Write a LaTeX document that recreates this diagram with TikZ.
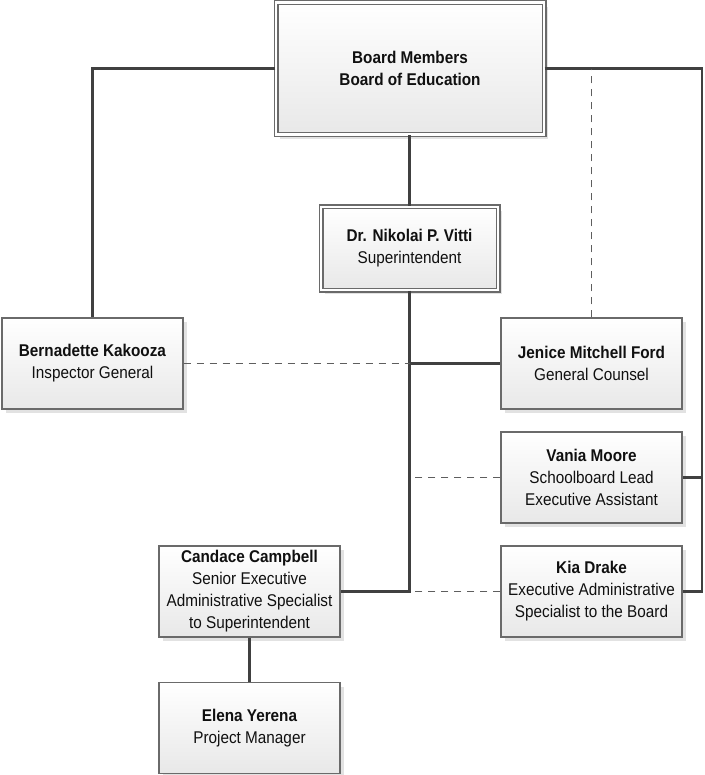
\documentclass[tikz,border=0pt]{standalone}
\usepackage{fontspec}
\setmainfont{Liberation Sans}[FakeStretch=0.9]
\usetikzlibrary{shadows}
\definecolor{conncol}{HTML}{404040}
\definecolor{dashcol}{HTML}{5E5E5E}
\definecolor{bordcol}{HTML}{6A6A6A}
\definecolor{shadcol}{HTML}{E2E2E2}
\definecolor{txtcol}{HTML}{101010}
\tikzset{
  boxbase/.style={rectangle, draw=bordcol, line width=1.3pt, top color=white, bottom color=black!9,
    align=center, inner sep=0pt, text=txtcol,
    font=\fontsize{17}{22}\selectfont,
    drop shadow={shadow xshift=4pt, shadow yshift=-4pt, fill=shadcol, opacity=1}},
  stdbox/.style={boxbase, minimum width=181pt, minimum height=91pt},
  dblbox/.style={boxbase, double=white, double distance=2.6pt, line width=1.2pt},
  conn/.style={draw=conncol, line width=2.8pt},
  dconn/.style={draw=dashcol, line width=1.7pt, dash pattern=on 7pt off 6pt},
}
\begin{document}
\begin{tikzpicture}[x=1pt,y=-1pt]
\useasboundingbox (0,0) rectangle (704,775);
% boxes
\node[dblbox, minimum width=268pt, minimum height=132pt] (top) at (410,68.6)
  {\textbf{Board Members}\\\textbf{Board of Education}};
\node[dblbox, minimum width=177pt, minimum height=83pt] (sup) at (409.5,248.5)
  {\textbf{Dr. Nikolai P. Vitti}\\Superintendent};
\node[stdbox] (bern) at (92.5,363.5) {\textbf{Bernadette Kakooza}\\Inspector General};
\node[stdbox] (jen) at (591.5,363.5) {\textbf{Jenice Mitchell Ford}\\General Counsel};
\node[stdbox] (van) at (591.5,477.5) {\textbf{Vania Moore}\\Schoolboard Lead\\Executive Assistant};
\node[stdbox] (kia) at (591.5,591.5) {\textbf{Kia Drake}\\Executive Administrative\\Specialist to the Board};
\node[stdbox] (cand) at (249.5,591.5) {\textbf{Candace Campbell}\\Senior Executive\\Administrative Specialist\\to Superintendent};
\node[stdbox] (ele) at (249.5,728) {\textbf{Elena Yerena}\\Project Manager};
% connectors
\coordinate (R) at (702,68.6);
\draw[conn] (top.west) -| (bern.north);
\draw[conn] (top.east) -- (R) |- (kia.east);
\draw[conn] (van.east) -- (van.east -| R);
\draw[conn] (sup.north |- top.south) -- (sup.north);
\draw[conn] (sup.south) |- (cand.east);
\draw[conn] (sup.south |- jen.west) -- (jen.west);
\draw[conn] (cand.south) -- (ele.north);
\draw[dconn] (bern.east) -- (sup.south |- bern.east);
\draw[dconn] (van.west) -- (sup.south |- van.west);
\draw[dconn] (kia.west) -- (sup.south |- kia.west);
\draw[dconn] (jen.north) -- (jen.north |- top.east);
\end{tikzpicture}
\end{document}
